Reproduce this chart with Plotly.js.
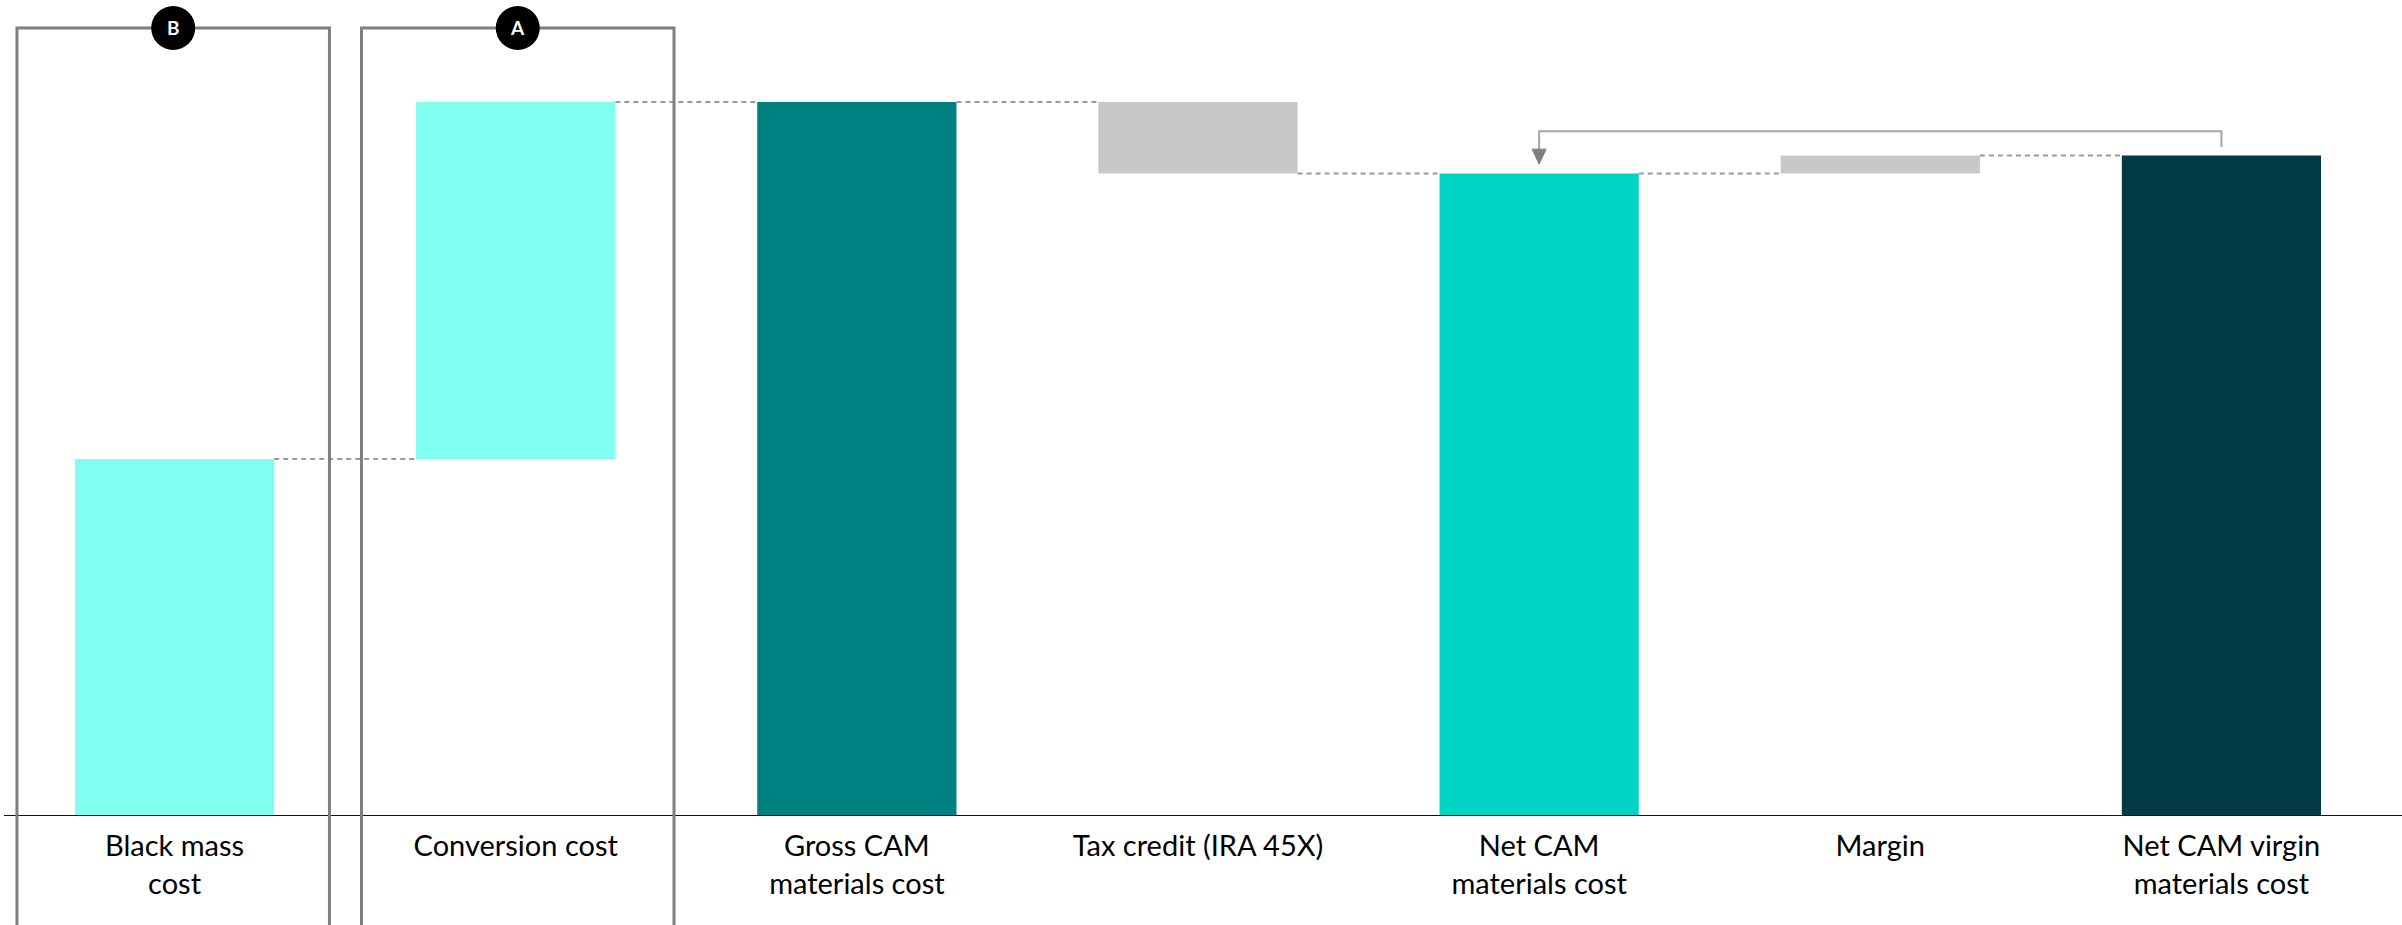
<!DOCTYPE html>
<html>
<head>
<meta charset="utf-8">
<script src="https://cdn.plot.ly/plotly-3.0.1.min.js"></script>
<style>html,body{margin:0;padding:0;background:#fff;}#chart{width:2402px;height:925px;}</style>
</head>
<body>
<div id="chart"></div>
<script>
// ---- data ----
const categories = [
  "Black mass<br>cost",
  "Conversion cost",
  "Gross CAM<br>materials cost",
  "Tax credit (IRA 45X)",
  "Net CAM<br>materials cost",
  "Margin",
  "Net CAM virgin<br>materials cost"
];
const values = [50, 50, 100, -10, 90, 2.5, 92.5];
const measures = ["relative", "relative", "total", "relative", "total", "relative", "total"];
const bracketLabels = ["B", "A"];   // bracket letter over category 0 and 1

// ---- styles ----
const barColors = ["#80FFF0", "#80FFF0", "#008080", "#C8C8C8", "#00D5C5", "#C8C8C8", "#023A46"];
const BAR_W = 0.584;
const FONT = "Lato, 'Open Sans', sans-serif";
const bracketEdges = [[-0.462, 0.454], [-0.452, 0.464]];

// ---- build bases ----
const bases = [], heights = [], levels = [];
let running = 0;
values.forEach((v, i) => {
  if (measures[i] === "total") {
    bases.push(0); heights.push(v); running = v;
  } else {
    bases.push(v >= 0 ? running : running + v);
    heights.push(Math.abs(v));
    running += v;
  }
  levels.push(running);
});

const xIdx = categories.map((c, i) => i);
const trace = {
  type: "bar",
  x: xIdx,
  y: heights,
  base: bases,
  width: BAR_W,
  marker: { color: barColors, line: { width: 0 } },
  hoverinfo: "skip"
};

const shapes = [];
// dashed connectors
for (let i = 0; i < values.length - 1; i++) {
  shapes.push({
    type: "line", xref: "x", yref: "y",
    x0: i + BAR_W / 2, x1: i + 1 - BAR_W / 2,
    y0: levels[i], y1: levels[i],
    line: { color: "#9A9A9A", width: 2, dash: "5px,4px" }
  });
}
// axis base line
shapes.push({
  type: "line", xref: "paper", yref: "y",
  x0: 0, x1: 1.01, y0: 0, y1: 0,
  line: { color: "#111111", width: 2 }
});

// brackets B and A
const XMIN = -0.5, XMAX = values.length - 0.5;
const toPaper = v => (v - XMIN) / (XMAX - XMIN);
const annotations = [];
bracketLabels.forEach((lab, i) => {
  const l = toPaper(i + bracketEdges[i][0]), r = toPaper(i + bracketEdges[i][1]);
  const top = 1 - 28 / 816;
  shapes.push({
    type: "path", xref: "paper", yref: "paper",
    path: `M ${l},-0.3 L ${l},${top} L ${r},${top} L ${r},-0.3`,
    line: { color: "#7F7F7F", width: 3 }
  });
  const cx = (l + r) / 2;
  shapes.push({
    type: "circle", xref: "paper", yref: "paper",
    xsizemode: "pixel", ysizemode: "pixel",
    xanchor: cx, yanchor: top,
    x0: -22, x1: 22, y0: -22, y1: 22,
    fillcolor: "#000000", line: { width: 0 }
  });
  annotations.push({
    xref: "paper", yref: "paper", x: cx, y: top,
    text: "<b>" + lab + "</b>", showarrow: false,
    font: { family: FONT, size: 19, color: "#FFFFFF" },
    xanchor: "center", yanchor: "middle"
  });
});

// arrow from Net CAM virgin back to Net CAM
const iFrom = 6, iTo = 4;
const yTopLine = levels[iFrom] + 3.4;
shapes.push({
  type: "path", xref: "x", yref: "y",
  path: `M ${iFrom},${levels[iFrom] + 1.2} L ${iFrom},${yTopLine} L ${iTo},${yTopLine} L ${iTo},${levels[iTo] + 3.0}`,
  line: { color: "#A6A6A6", width: 2 }
});
shapes.push({
  type: "path", xref: "x", yref: "y",
  xsizemode: "pixel", ysizemode: "pixel",
  xanchor: iTo, yanchor: levels[iTo] + 1.3,
  path: "M -7,15 L 7,15 L 0,0 Z",
  fillcolor: "#7F7F7F", line: { color: "#7F7F7F", width: 1 }
});

const layout = {
  width: 2402, height: 925,
  margin: { l: 4, r: 10, t: 0, b: 109, pad: 0 },
  paper_bgcolor: "#FFFFFF", plot_bgcolor: "#FFFFFF",
  showlegend: false,
  xaxis: {
    range: [XMIN, XMAX],
    tickmode: "array", tickvals: xIdx, ticktext: categories,
    showgrid: false, zeroline: false, showline: false,
    ticks: "", tickfont: { family: FONT, size: 29, color: "#000000" },
    ticklabelstandoff: 10,
    fixedrange: true
  },
  yaxis: {
    range: [0, 114.29], visible: false, showgrid: false, zeroline: false, fixedrange: true
  },
  shapes: shapes,
  annotations: annotations
};

Plotly.newPlot("chart", [trace], layout, { staticPlot: true, displayModeBar: false });
</script>
</body>
</html>
